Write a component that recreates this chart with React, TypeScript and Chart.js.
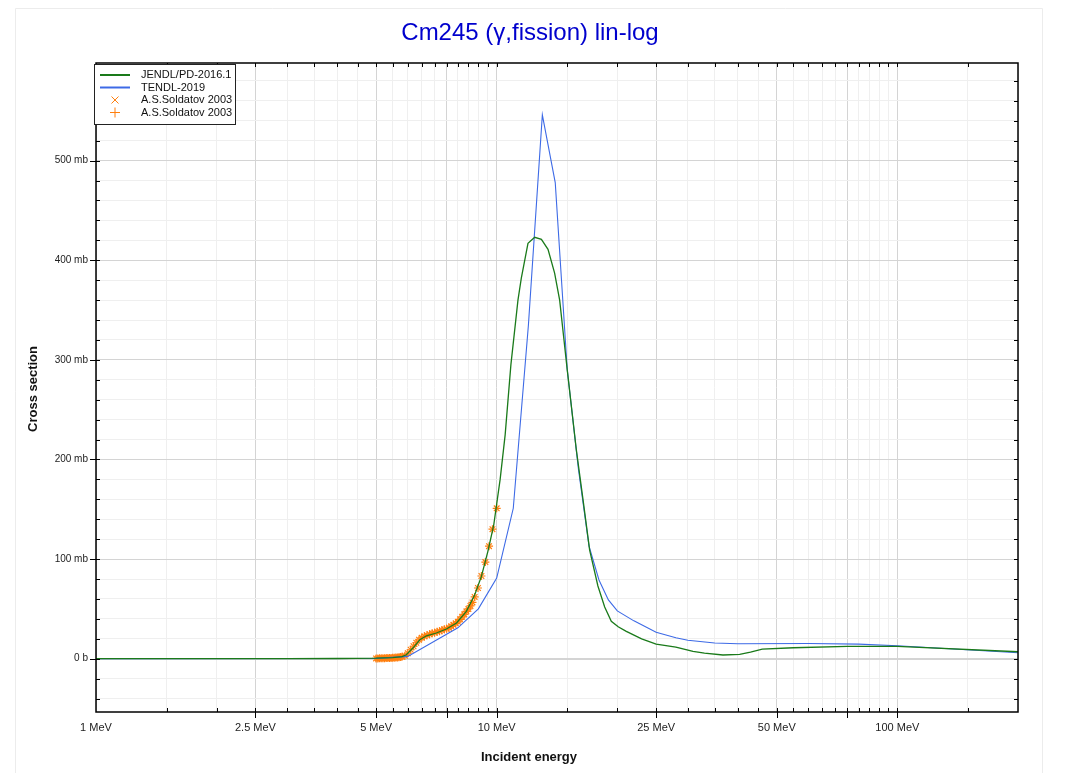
import React, { useEffect, useRef } from 'react';
import { Chart, registerables } from 'chart.js';

Chart.register(...registerables);

const TITLE = 'Cm245 (γ,fission) lin-log';
const X_TITLE = 'Incident energy';
const Y_TITLE = 'Cross section';

// JENDL/PD-2016.1 (MeV, mb)
const jendlE = [1, 2, 3, 4, 5, 5.5, 5.8, 5.95, 6.18, 6.43, 6.68, 7.07, 7.49, 7.94, 8.4, 8.81, 9.16, 9.51, 9.83, 10.2, 10.5, 10.85, 11.3, 11.52, 11.97, 12.44, 12.93, 13.43, 13.95, 14.36, 15.0, 15.8, 16.42, 17.06, 17.89, 18.6, 19.32, 20.1, 21.06, 23, 25, 28, 30.9, 33, 36.7, 40.4, 43, 46, 55, 75, 100, 200];
const jendlXS = [0, 0.05, 0.1, 0.2, 0.5, 1, 2, 4, 10.7, 19, 23, 25.8, 29.8, 35.8, 47.5, 64, 82.6, 108, 134, 180, 225, 295, 360, 382, 417, 423, 421, 411, 387, 360, 290, 210, 160, 109, 73, 52, 37.5, 32, 27.4, 20, 14.7, 11.7, 7.4, 5.5, 3.7, 4.3, 6.5, 9.7, 11, 12.3, 12.3, 7];

// TENDL-2019 (MeV, mb)
const tendlE = [1, 5, 6, 8, 9, 10, 11, 12, 13, 14, 15, 16, 17, 18, 19, 20, 22, 25, 28, 30, 35, 40, 60, 80, 100, 200];
const tendlXS = [0, 0.3, 2.3, 31, 50, 81, 151, 335, 546, 478, 290, 190, 113, 79, 59, 48, 38, 26.5, 21, 18.5, 15.7, 15, 15.3, 14.6, 13, 6];

// A.S.Soldatov 2003 (MeV, mb)
const soldE = [5.0, 5.05, 5.1, 5.15, 5.2, 5.25, 5.3, 5.35, 5.4, 5.45, 5.5, 5.55, 5.6, 5.65, 5.7, 5.75, 5.8, 5.9, 6.0, 6.1, 6.2, 6.3, 6.4, 6.5, 6.6, 6.7, 6.8, 6.9, 7.0, 7.1, 7.2, 7.3, 7.4, 7.5, 7.6, 7.7, 7.8, 7.9, 8.0, 8.1, 8.2, 8.3, 8.4, 8.5, 8.6, 8.7, 8.81, 8.98, 9.16, 9.37, 9.57, 9.76, 10.0];
const soldXS = [0.3, 0.3, 0.4, 0.4, 0.5, 0.5, 0.6, 0.6, 0.7, 0.8, 0.9, 1.0, 1.1, 1.2, 1.4, 1.6, 2.0, 3.0, 5.5, 9, 12.5, 16, 19, 21, 22.5, 23.5, 24.5, 25.5, 26, 27, 27.5, 28.5, 29.5, 30, 31, 32.5, 34, 35.5, 37, 39.5, 42, 44.5, 47.5, 50, 53, 56.5, 62, 71, 83, 97, 113, 130, 151];

// Axis ticks
const xMajorTicks = [1, 2.5, 5, 7.5, 10, 25, 50, 75, 100];
const xMinorTicks = [1.5, 2, 3, 3.5, 4, 4.5, 5.5, 6, 6.5, 7, 8, 8.5, 9, 9.5, 15, 20, 30, 35, 40, 45, 55, 60, 65, 70, 80, 85, 90, 95, 150, 200];
const xLabelTicks = [1, 2.5, 5, 10, 25, 50, 100];
const yTicks = [-40, -20, 0, 20, 40, 60, 80, 100, 120, 140, 160, 180, 200, 220, 240, 260, 280, 300, 320, 340, 360, 380, 400, 420, 440, 460, 480, 500, 520, 540, 560, 580];
const yLabelTicks = [0, 100, 200, 300, 400, 500];

const GREEN = '#1a7a1a';
const BLUE = '#3d6ae6';
const ORANGE = '#ff7f0e';
const FONT = '"Liberation Sans", Arial, sans-serif';

const allXTicks = [...xMajorTicks, ...xMinorTicks].sort((a, b) => a - b);

const framePlugin = {
  id: 'framePlugin',
  beforeDraw(chart: any) {
    const ctx = chart.ctx;
    ctx.save();
    ctx.fillStyle = '#ffffff';
    ctx.fillRect(0, 0, chart.width, chart.height);
    ctx.strokeStyle = '#ececec';
    ctx.lineWidth = 1;
    ctx.beginPath();
    ctx.moveTo(15.5, 800);
    ctx.lineTo(15.5, 8.5);
    ctx.lineTo(1042.5, 8.5);
    ctx.lineTo(1042.5, 800);
    ctx.stroke();
    ctx.fillStyle = '#0000cd';
    ctx.font = `24px ${FONT}`;
    ctx.textAlign = 'center';
    ctx.textBaseline = 'middle';
    ctx.fillText(TITLE, 530, 33);
    ctx.restore();
  },
  afterDraw(chart: any) {
    const ctx = chart.ctx;
    const a = chart.chartArea;
    const xs = chart.scales.x;
    const ys = chart.scales.y;
    ctx.save();
    ctx.strokeStyle = '#000';
    ctx.lineWidth = 1;
    ctx.beginPath();
    for (const v of allXTicks) {
      if (v <= 1 || v >= 200) continue;
      const px = Math.round(xs.getPixelForValue(v)) + 0.5;
      const major = xMajorTicks.includes(v);
      ctx.moveTo(px, a.bottom - 4);
      ctx.lineTo(px, a.bottom + (major ? 6 : 0));
      ctx.moveTo(px, a.top);
      ctx.lineTo(px, a.top + 4);
    }
    for (const v of yTicks) {
      const py = Math.round(ys.getPixelForValue(v)) + 0.5;
      const major = yLabelTicks.includes(v);
      ctx.moveTo(a.left - (major ? 6 : 0), py);
      ctx.lineTo(a.left + 4, py);
      ctx.moveTo(a.right - 4, py);
      ctx.lineTo(a.right, py);
    }
    ctx.stroke();
    ctx.lineWidth = 1.5;
    ctx.strokeRect(a.left, a.top, a.right - a.left, a.bottom - a.top);

    // axis titles
    ctx.fillStyle = '#111';
    ctx.font = `bold 13px ${FONT}`;
    ctx.textAlign = 'center';
    ctx.textBaseline = 'middle';
    ctx.fillText(X_TITLE, 529, 757);
    ctx.save();
    ctx.translate(33, 389);
    ctx.rotate(-Math.PI / 2);
    ctx.fillText(Y_TITLE, 0, 0);
    ctx.restore();

    // legend
    const lx = 94.5, ly = 64.5, lw = 141, lh = 60;
    ctx.fillStyle = '#fff';
    ctx.fillRect(lx, ly, lw, lh);
    ctx.strokeStyle = '#222';
    ctx.lineWidth = 1;
    ctx.strokeRect(lx, ly, lw, lh);
    const rows = [75, 87.5, 100, 112.5];
    const ds = chart.data.datasets;
    ctx.font = `11px ${FONT}`;
    ctx.textAlign = 'left';
    ctx.textBaseline = 'middle';
    ds.forEach((d: any, i: number) => {
      const y = rows[i];
      ctx.strokeStyle = d.borderColor;
      if (i < 2) {
        ctx.lineWidth = 2;
        ctx.beginPath();
        ctx.moveTo(100, y);
        ctx.lineTo(130, y);
        ctx.stroke();
      } else {
        ctx.lineWidth = 1;
        ctx.beginPath();
        if (d.pointStyle === 'crossRot') {
          ctx.moveTo(111.5, y - 3.5); ctx.lineTo(118.5, y + 3.5);
          ctx.moveTo(118.5, y - 3.5); ctx.lineTo(111.5, y + 3.5);
        } else {
          ctx.moveTo(110, y); ctx.lineTo(120, y);
          ctx.moveTo(115, y - 5); ctx.lineTo(115, y + 5);
        }
        ctx.stroke();
      }
      ctx.fillStyle = '#111';
      ctx.fillText(d.label, 141, y);
    });
    ctx.restore();
  },
};

export default function App() {
  const ref = useRef<HTMLCanvasElement>(null);
  useEffect(() => {
    if (!ref.current) return;
    const pts = (xs: number[], ys: number[]) => xs.map((x, i) => ({ x, y: ys[i] }));
    const chart = new Chart(ref.current, {
      type: 'scatter',
      data: {
        datasets: [
          { label: 'JENDL/PD-2016.1', data: pts(jendlE, jendlXS), showLine: true, borderColor: GREEN, backgroundColor: GREEN, borderWidth: 1.3, pointRadius: 0, tension: 0 },
          { label: 'TENDL-2019', data: pts(tendlE, tendlXS), showLine: true, borderColor: BLUE, backgroundColor: BLUE, borderWidth: 1.1, pointRadius: 0, tension: 0 },
          { label: 'A.S.Soldatov 2003', data: pts(soldE, soldXS), showLine: false, pointStyle: 'crossRot', pointRadius: 4, borderColor: ORANGE, backgroundColor: ORANGE, borderWidth: 1.2 },
          { label: 'A.S.Soldatov 2003', data: pts(soldE, soldXS), showLine: false, pointStyle: 'cross', pointRadius: 4, borderColor: ORANGE, backgroundColor: ORANGE, borderWidth: 1.2 },
        ],
      } as any,
      options: {
        animation: false,
        responsive: false,
        events: [],
        layout: { padding: { left: 26, right: 49, top: 63, bottom: 21 } },
        plugins: { legend: { display: false }, title: { display: false }, tooltip: { enabled: false } },
        scales: {
          x: {
            type: 'logarithmic',
            min: 1,
            max: 200,
            afterBuildTicks: (s: any) => { s.ticks = allXTicks.map((v) => ({ value: v })); },
            afterFit: (s: any) => { s.height = 40; },
            border: { display: false },
            grid: {
              drawTicks: false,
              color: (c: any) => (c.tick && xMajorTicks.includes(c.tick.value) ? '#d4d4d4' : '#efefef'),
              lineWidth: 1,
            },
            ticks: {
              autoSkip: false,
              maxRotation: 0,
              minRotation: 0,
              padding: 9,
              color: '#222',
              font: { family: FONT, size: 11 },
              callback: (v: any) => (xLabelTicks.includes(Number(v)) ? `${v} MeV` : ''),
            },
          },
          y: {
            type: 'linear',
            min: -53.5,
            max: 598,
            afterBuildTicks: (s: any) => { s.ticks = yTicks.map((v) => ({ value: v })); },
            afterFit: (s: any) => { s.width = 70; },
            border: { display: false },
            grid: {
              drawTicks: false,
              color: (c: any) => (c.tick && yLabelTicks.includes(c.tick.value) ? '#d4d4d4' : '#efefef'),
              lineWidth: (c: any) => (c.tick && c.tick.value === 0 ? 2 : 1),
            },
            ticks: {
              autoSkip: false,
              padding: 8,
              color: '#222',
              font: { family: FONT, size: 10 },
              callback: (v: any) => {
                const n = Number(v);
                if (!yLabelTicks.includes(n)) return '';
                return n === 0 ? '0 b' : `${n} mb`;
              },
            },
          },
        },
      } as any,
      plugins: [framePlugin],
    });
    return () => chart.destroy();
  }, []);
  return (
    <canvas
      ref={ref}
      width={1067}
      height={773}
      style={{ position: 'absolute', left: 0, top: 0, width: 1067, height: 773 }}
    />
  );
}
